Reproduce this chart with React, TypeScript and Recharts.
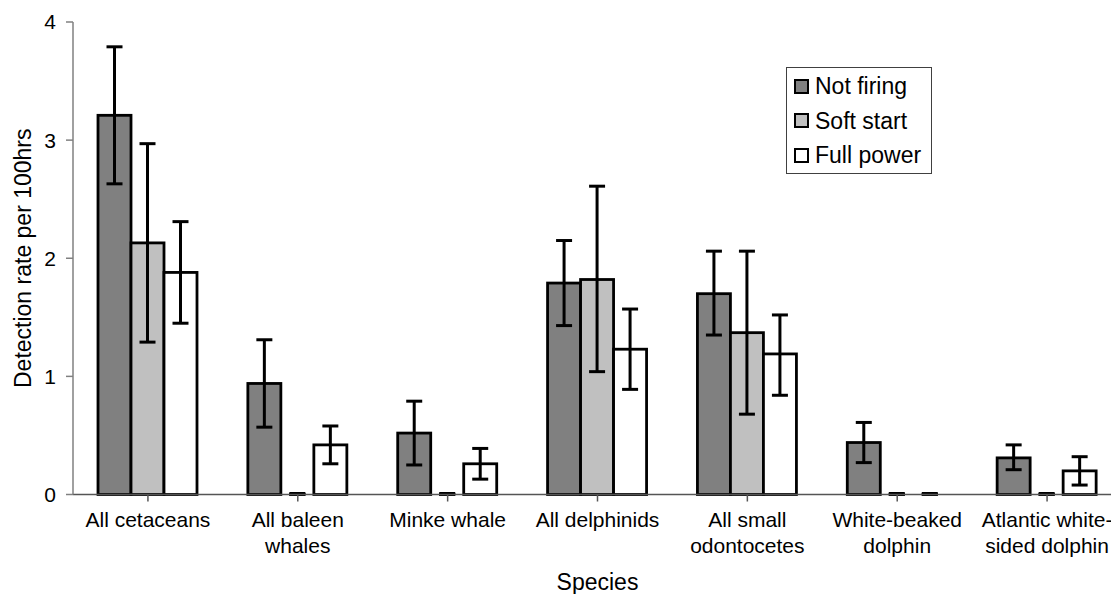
import React from 'react';
import { BarChart, Bar, XAxis, YAxis, ErrorBar, Legend } from 'recharts';

// Species groups (line breaks follow the axis labels)
const categories = [
  'All cetaceans',
  'All baleen\nwhales',
  'Minke whale',
  'All delphinids',
  'All small\nodontocetes',
  'White-beaked\ndolphin',
  'Atlantic white-\nsided dolphin',
];

// Detection rate per 100 hrs, with lower / upper error limits
const notFiring = [3.21, 0.94, 0.52, 1.79, 1.7, 0.44, 0.31];
const notFiringLow = [2.63, 0.57, 0.25, 1.43, 1.35, 0.27, 0.21];
const notFiringHigh = [3.79, 1.31, 0.79, 2.15, 2.06, 0.61, 0.42];

const softStart = [2.13, 0, 0, 1.82, 1.37, 0, 0];
const softStartLow = [1.29, 0, 0, 1.04, 0.68, 0, 0];
const softStartHigh = [2.97, 0, 0, 2.61, 2.06, 0, 0];

const fullPower = [1.88, 0.42, 0.26, 1.23, 1.19, 0, 0.2];
const fullPowerLow = [1.45, 0.26, 0.13, 0.89, 0.84, 0, 0.08];
const fullPowerHigh = [2.31, 0.58, 0.39, 1.57, 1.52, 0, 0.32];

const seriesNames = ['Not firing', 'Soft start', 'Full power'];
const seriesColors = ['#808080', '#C0C0C0', '#FFFFFF'];

const yTicks = [0, 1, 2, 3, 4];

const FONT = '"Liberation Sans", Arial, Helvetica, sans-serif';
// half of the error-cap length
const CAP_HALF = 8;

const round = (v: number) => Math.round(v * 1000) / 1000;

const data = categories.map((name, i) => ({
  name,
  notFiring: notFiring[i],
  notFiringErr: [round(notFiring[i] - notFiringLow[i]), round(notFiringHigh[i] - notFiring[i])],
  softStart: softStart[i],
  softStartErr: [round(softStart[i] - softStartLow[i]), round(softStartHigh[i] - softStart[i])],
  fullPower: fullPower[i],
  fullPowerErr: [round(fullPower[i] - fullPowerLow[i]), round(fullPowerHigh[i] - fullPower[i])],
}));

// Bars with an outline; a zero value shows only its flat error cap on the baseline
const BarShape = (props: any) => {
  const { x, y, width, height, fill } = props;
  if (!height || Math.abs(height) < 0.5) {
    const cx = x + width / 2;
    return (
      <line x1={cx - CAP_HALF} x2={cx + CAP_HALF} y1={y - 1} y2={y - 1} stroke="#000" strokeWidth={3} />
    );
  }
  return <rect x={x} y={y} width={width} height={height} fill={fill} stroke="#000" strokeWidth={2.8} />;
};

const XTick = (props: any) => {
  const { x, y, payload } = props;
  const lines = String(payload.value).split('\n');
  return (
    <text x={x} y={y} textAnchor="middle" fontSize={21} fill="#000" fontFamily={FONT}>
      {lines.map((l, i) => (
        <tspan key={i} x={x} dy={i === 0 ? 23 : 26.5}>
          {l}
        </tspan>
      ))}
    </text>
  );
};

const XLabel = (props: any) => {
  const vb = props.viewBox || {};
  return (
    <text
      x={vb.x + vb.width / 2}
      y={vb.y + 95}
      textAnchor="middle"
      fontSize={23}
      fill="#000"
      fontFamily={FONT}
    >
      Species
    </text>
  );
};

const YLabel = (props: any) => {
  const vb = props.viewBox || {};
  const cy = vb.y + vb.height / 2;
  const x = 31;
  return (
    <text
      x={x}
      y={cy}
      transform={`rotate(-90, ${x}, ${cy})`}
      textAnchor="middle"
      fontSize={23}
      fill="#000"
      fontFamily={FONT}
    >
      Detection rate per 100hrs
    </text>
  );
};

const LegendBox = (props: any) => {
  const payload = [...(props.payload || [])].sort(
    (a: any, b: any) => seriesNames.indexOf(a.value) - seriesNames.indexOf(b.value)
  );
  return (
    <div
      style={{
        border: '1.3px solid #404040',
        background: '#fff',
        width: 146,
        height: 107,
        boxSizing: 'border-box',
        padding: '1px 0 0 7px',
        fontFamily: FONT,
        fontSize: 23,
        color: '#000',
        textAlign: 'left',
      }}
    >
      {payload.map((p: any) => (
        <div
          key={p.value}
          style={{ display: 'flex', alignItems: 'center', height: 34.5, lineHeight: '34.5px' }}
        >
          <span
            style={{
              display: 'inline-block',
              width: 15,
              height: 15,
              boxSizing: 'border-box',
              border: '2.5px solid #000',
              background: seriesColors[seriesNames.indexOf(p.value)],
              marginRight: 6,
              flex: 'none',
            }}
          />
          <span>{p.value}</span>
        </div>
      ))}
    </div>
  );
};

export default function App() {
  return (
    <div
      style={{
        position: 'fixed',
        left: 0,
        top: 0,
        width: 1111,
        height: 594,
        overflow: 'hidden',
        background: '#fff',
      }}
    >
      <BarChart
        width={1122}
        height={594}
        data={data}
        margin={{ top: 22, right: 0, bottom: 29.5, left: 0 }}
        barCategoryGap={25}
        barGap={0}
      >
        <XAxis
          dataKey="name"
          interval={0}
          tick={<XTick />}
          tickSize={7}
          tickMargin={2}
          height={70}
          axisLine={{ stroke: '#555', strokeWidth: 1.5 }}
          tickLine={{ stroke: '#555', strokeWidth: 1.5 }}
          label={<XLabel />}
        />
        <YAxis
          domain={[0, 4]}
          ticks={yTicks}
          width={73}
          tickSize={7}
          tickMargin={10}
          allowDecimals={false}
          axisLine={{ stroke: '#808080', strokeWidth: 1.5 }}
          tickLine={{ stroke: '#808080', strokeWidth: 1.5 }}
          tick={{ fill: '#000', fontSize: 21, fontFamily: FONT }}
          label={<YLabel />}
        />
        <Legend
          layout="vertical"
          align="center"
          verticalAlign="middle"
          content={<LegendBox />}
          wrapperStyle={{ position: 'absolute', left: 786, top: 67, width: 146, height: 107 }}
        />
        <Bar
          dataKey="notFiring"
          name={seriesNames[0]}
          fill={seriesColors[0]}
          stroke="#000"
          shape={<BarShape />}
          isAnimationActive={false}
        >
          <ErrorBar dataKey="notFiringErr" width={CAP_HALF} stroke="#000" strokeWidth={3} direction="y" />
        </Bar>
        <Bar
          dataKey="softStart"
          name={seriesNames[1]}
          fill={seriesColors[1]}
          stroke="#000"
          shape={<BarShape />}
          isAnimationActive={false}
        >
          <ErrorBar dataKey="softStartErr" width={CAP_HALF} stroke="#000" strokeWidth={3} direction="y" />
        </Bar>
        <Bar
          dataKey="fullPower"
          name={seriesNames[2]}
          fill={seriesColors[2]}
          stroke="#000"
          shape={<BarShape />}
          isAnimationActive={false}
        >
          <ErrorBar dataKey="fullPowerErr" width={CAP_HALF} stroke="#000" strokeWidth={3} direction="y" />
        </Bar>
      </BarChart>
    </div>
  );
}
